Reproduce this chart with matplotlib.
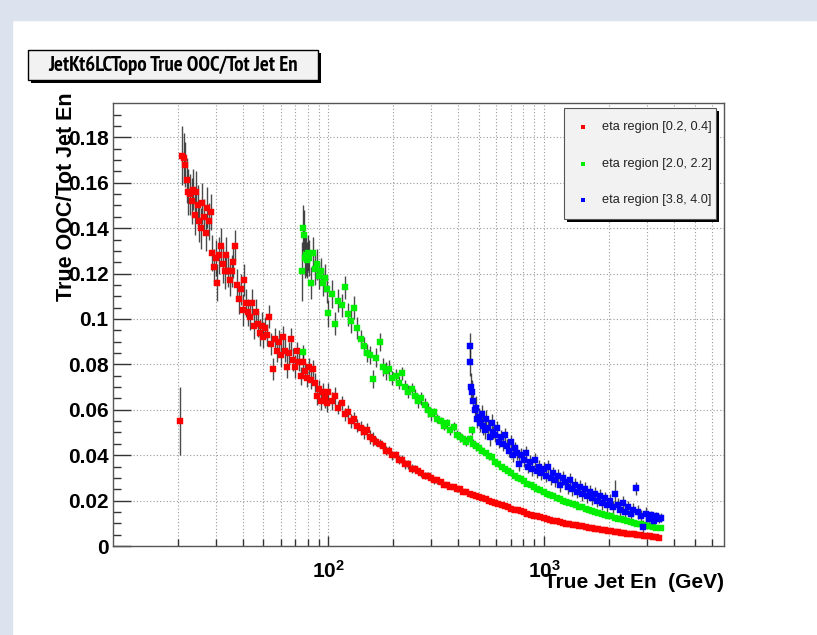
import matplotlib
matplotlib.use('Agg')
import matplotlib.pyplot as plt
from matplotlib.patches import Rectangle
from matplotlib.ticker import FixedLocator, NullFormatter
from matplotlib import font_manager
from matplotlib.font_manager import FontProperties

plt.rcParams['font.family'] = ['Liberation Sans', 'DejaVu Sans']
plt.rcParams['mathtext.fontset'] = 'custom'
plt.rcParams['mathtext.rm'] = 'Liberation Sans'
plt.rcParams['mathtext.bf'] = 'Liberation Sans:bold'

# ---------------- data ----------------
title = "JetKt6LCTopo True OOC/Tot Jet En"
x_label = "True Jet En  (GeV)"
y_label = "True OOC/Tot Jet En"
series_labels = ["eta region [0.2, 0.4]", "eta region [2.0, 2.2]", "eta region [3.8, 4.0]"]
series_colors = ["#ff0000", "#00ee00", "#0000ff"]

red_x = [20.5, 21.0, 21.3, 21.6, 22.0, 22.4, 22.8, 23.2, 23.6, 24.0, 24.4, 24.8, 25.2, 25.6, 26.0,
         26.5, 27.0, 27.5, 28.0, 28.5, 29.0, 29.5, 30.0, 30.6, 31.2, 31.8, 32.4, 33.0, 33.6, 34.2,
         34.9, 35.6, 36.3, 37.0, 37.7, 38.4, 39.2, 40.0, 40.8, 41.6, 42.4, 43.3, 44.2, 45.1, 46.0,
         47.0, 48.0, 49.0, 50.0, 51.0, 52.1, 53.2, 54.3, 55.4, 56.6, 57.8, 59.0, 60.2, 61.5, 62.8,
         64.1, 65.5, 66.9, 68.3, 69.8, 71.3, 72.8, 74.4, 76.0, 77.6, 79.3, 81.0, 82.7, 84.5, 86.3,
         88.2, 90.1, 92.0, 94.0, 96.0, 98.0,
         100, 103.5, 107, 111, 115, 119, 123, 127, 131, 136, 141, 146, 151, 156, 161, 167, 173,
         179, 185, 191, 198, 205, 212, 219, 227, 235, 243, 252, 261, 270, 279, 289, 299, 309, 320,
         331, 343, 355, 367, 380, 393, 407, 421, 436, 451, 467, 483, 500, 517, 535, 554, 573, 593,
         614, 636, 658, 681, 705, 730, 755, 782, 809, 837, 866, 897, 928, 960, 994, 1029, 1065,
         1102, 1141, 1181, 1222, 1265, 1309, 1355, 1402, 1451, 1502, 1555, 1609, 1665, 1724, 1784,
         1846, 1911, 1978, 2047, 2119, 2193, 2270, 2349, 2431, 2516, 2604, 2696, 2790, 2888, 2989,
         3093, 3202, 3314, 3400]
red_y = [0.055, 0.172, 0.171, 0.168, 0.161, 0.156, 0.155, 0.152, 0.157, 0.146, 0.156, 0.150, 0.143, 0.140, 0.151,
         0.145, 0.138, 0.149, 0.143, 0.147, 0.129, 0.123, 0.127, 0.116, 0.128, 0.132, 0.124, 0.121, 0.128, 0.121,
         0.117, 0.121, 0.125, 0.132, 0.115, 0.109, 0.113, 0.104, 0.117, 0.107, 0.103, 0.101, 0.107, 0.097, 0.103,
         0.098, 0.094, 0.097, 0.092, 0.096, 0.093, 0.101, 0.089, 0.078, 0.091, 0.086, 0.090, 0.084, 0.092, 0.086,
         0.079, 0.085, 0.091, 0.082, 0.079, 0.086, 0.081, 0.075, 0.081, 0.077, 0.074, 0.079, 0.073, 0.078, 0.072,
         0.066, 0.069, 0.064, 0.068, 0.065, 0.063,
         0.068, 0.064, 0.066, 0.061, 0.063, 0.058, 0.059, 0.055, 0.056, 0.053, 0.052, 0.050, 0.051, 0.048, 0.047, 0.046, 0.045,
         0.044, 0.042, 0.042, 0.040, 0.040, 0.038, 0.038, 0.036, 0.036, 0.034, 0.034, 0.033, 0.032, 0.031, 0.031, 0.030, 0.029, 0.029,
         0.028, 0.027, 0.027, 0.026, 0.026, 0.025, 0.025, 0.024, 0.024, 0.023, 0.0225, 0.022, 0.0215, 0.021, 0.0205, 0.020, 0.0195, 0.019,
         0.0185, 0.018, 0.0175, 0.017, 0.0165, 0.016, 0.0157, 0.0152, 0.0148, 0.0143, 0.0138, 0.0134, 0.0130, 0.0126, 0.0122, 0.0118, 0.0114,
         0.0111, 0.0108, 0.0105, 0.0102, 0.0099, 0.0096, 0.0094, 0.0091, 0.0088, 0.0086, 0.0083, 0.0081, 0.0078, 0.0076, 0.0073,
         0.0071, 0.0069, 0.0067, 0.0066, 0.0062, 0.0060, 0.0058, 0.0056, 0.0054, 0.0052, 0.0051, 0.0049, 0.0047, 0.0046, 0.0044,
         0.0042, 0.0040, 0.0038, 0.0036]
red_err = [0.015, 0.013, 0.011, 0.010, 0.010, 0.010, 0.009, 0.010, 0.009, 0.009, 0.009, 0.009, 0.009, 0.009, 0.009,
           0.008, 0.008, 0.009, 0.008, 0.008, 0.008, 0.008, 0.008, 0.008, 0.008, 0.008, 0.008, 0.008, 0.008, 0.007,
           0.007, 0.007, 0.007, 0.007, 0.007, 0.007, 0.007, 0.007, 0.007, 0.006, 0.006, 0.006, 0.006, 0.006, 0.006,
           0.006, 0.006, 0.006, 0.005, 0.005, 0.005, 0.005, 0.005, 0.005, 0.005, 0.005, 0.005, 0.005, 0.005, 0.005,
           0.005, 0.005, 0.005, 0.005, 0.005, 0.004, 0.004, 0.004, 0.004, 0.004, 0.004, 0.004, 0.004, 0.004, 0.004,
           0.004, 0.004, 0.004, 0.004, 0.004, 0.004,
           0.004, 0.004, 0.004, 0.003, 0.003, 0.003, 0.003, 0.003, 0.003, 0.003, 0.003, 0.003, 0.003, 0.003, 0.003, 0.002, 0.002,
           0.002, 0.002, 0.002, 0.002, 0.002, 0.002, 0.002, 0.002, 0.002, 0.002, 0.0015, 0.0015, 0.0015, 0.0015, 0.0015, 0.0015, 0.0015, 0.0015,
           0.001, 0.001, 0.001, 0.001, 0.001, 0.001, 0.001, 0.001, 0.001, 0.001, 0.001, 0.001, 0.001, 0.001, 0.001, 0.001, 0.001, 0.001,
           0.0008, 0.0008, 0.0008, 0.0008, 0.0008, 0.0008, 0.0008, 0.0008, 0.0008, 0.0008, 0.0008, 0.0008, 0.0008, 0.0008, 0.0008, 0.0008, 0.0008,
           0.0006, 0.0006, 0.0006, 0.0006, 0.0006, 0.0006, 0.0006, 0.0006, 0.0006, 0.0006, 0.0006, 0.0006, 0.0006, 0.0006, 0.0006,
           0.0005, 0.0005, 0.0005, 0.0005, 0.0005, 0.0005, 0.0005, 0.0005, 0.0005, 0.0005, 0.0005, 0.0005, 0.0005, 0.0005, 0.0005,
           0.0005, 0.0005, 0.0005, 0.0005]

green_x = [75.5, 76.0, 76.5, 77.0, 77.6, 78.5, 79.3, 80.2, 81.0, 82.7, 84.5, 86.3, 88.2, 90.1, 92.0, 94.0, 96.0, 98.0,
           100, 103.5, 107, 111, 115, 119, 123, 127, 131, 136, 141, 146, 151, 156, 161, 167, 173,
           179, 185, 191, 198, 205, 212, 219, 227, 235, 243, 252, 261, 270, 279, 289, 299, 309, 320,
           331, 343, 355, 367, 380, 393, 407, 421, 436, 451, 465, 467, 483, 500, 517, 535, 554, 573, 593,
           614, 636, 658, 681, 705, 730, 755, 782, 809, 837, 866, 897, 928, 960, 994, 1029, 1065,
           1102, 1141, 1181, 1222, 1265, 1309, 1355, 1402, 1451, 1502, 1555, 1609, 1665, 1724, 1784,
           1846, 1911, 1978, 2047, 2119, 2193, 2270, 2349, 2431, 2516, 2604, 2696, 2790, 2888, 2989,
           3093, 3202, 3314, 3470]
green_y = [0.121, 0.140, 0.0855, 0.137, 0.127, 0.128, 0.126, 0.129, 0.127, 0.116, 0.129, 0.122, 0.124, 0.119, 0.121, 0.116, 0.118, 0.113,
           0.1025, 0.111, 0.098, 0.108, 0.106, 0.114, 0.102, 0.099, 0.105, 0.096, 0.091, 0.088, 0.085, 0.084, 0.0734, 0.083, 0.0897,
           0.079, 0.077, 0.078, 0.074, 0.075, 0.072, 0.076, 0.070, 0.068, 0.069, 0.066, 0.064, 0.065, 0.062, 0.060, 0.058, 0.059, 0.056,
           0.055, 0.053, 0.054, 0.051, 0.0525, 0.049, 0.048, 0.047, 0.046, 0.047, 0.051, 0.045, 0.044, 0.043, 0.042, 0.041, 0.0395, 0.039, 0.037,
           0.036, 0.035, 0.034, 0.033, 0.032, 0.031, 0.030, 0.0295, 0.0285, 0.0275, 0.027, 0.026, 0.025, 0.0245, 0.024, 0.023, 0.0225,
           0.022, 0.021, 0.0205, 0.020, 0.0195, 0.019, 0.0183, 0.018, 0.0173, 0.017, 0.0165, 0.016, 0.0155, 0.015, 0.0147,
           0.0142, 0.0138, 0.0134, 0.013, 0.0125, 0.0121, 0.0117, 0.0113, 0.011, 0.0106, 0.0102, 0.0099, 0.0096, 0.0093, 0.009,
           0.0087, 0.0084, 0.0081, 0.0078]
green_err = [0.013, 0.010, 0.003, 0.011, 0.009, 0.009, 0.008, 0.008, 0.008, 0.007, 0.007, 0.007, 0.007, 0.006, 0.006, 0.006, 0.006, 0.006,
             0.006, 0.006, 0.005, 0.005, 0.005, 0.005, 0.005, 0.005, 0.005, 0.005, 0.004, 0.004, 0.004, 0.004, 0.004, 0.004, 0.004,
             0.004, 0.004, 0.004, 0.003, 0.003, 0.003, 0.003, 0.003, 0.003, 0.003, 0.003, 0.003, 0.003, 0.003, 0.003, 0.003, 0.002, 0.002,
             0.002, 0.002, 0.002, 0.002, 0.002, 0.002, 0.002, 0.002, 0.002, 0.002, 0.002, 0.002, 0.002, 0.002, 0.0015, 0.0015, 0.0015, 0.0015, 0.0015,
             0.0012, 0.0012, 0.0012, 0.0012, 0.0012, 0.0012, 0.0012, 0.0012, 0.001, 0.001, 0.001, 0.001, 0.001, 0.001, 0.001, 0.001, 0.001,
             0.0008, 0.0008, 0.0008, 0.0008, 0.0008, 0.0008, 0.0008, 0.0008, 0.0008, 0.0008, 0.0008, 0.0008, 0.0008, 0.0008, 0.0008,
             0.0007, 0.0007, 0.0007, 0.0007, 0.0007, 0.0007, 0.0007, 0.0007, 0.0007, 0.0007, 0.0007, 0.0007, 0.0007, 0.0007, 0.0007,
             0.0007, 0.0007, 0.0007, 0.0007]

blue_x = [451, 455, 460, 465, 470, 476, 483, 490, 497, 505, 513, 521, 530, 540, 550, 560, 571, 582, 593, 605,
          617, 630, 643, 657, 671, 686, 701, 717, 733, 750, 767, 785, 803, 822, 841, 861, 882, 903, 925, 948,
          971, 995, 1020, 1046, 1073, 1100, 1128, 1157, 1187, 1218, 1250, 1283, 1317, 1352, 1388, 1425, 1463,
          1502, 1542, 1584, 1627, 1671, 1717, 1764, 1812, 1862, 1913, 1966, 2020, 2076, 2133, 2192, 2253, 2315,
          2380, 2446, 2514, 2584, 2656, 2730, 2806, 2884, 2965, 3048, 3133, 3220, 3310, 3402, 3497]
blue_y = [0.088, 0.081, 0.070, 0.068, 0.064, 0.060, 0.061, 0.056, 0.057, 0.054, 0.058, 0.053, 0.051, 0.056, 0.052, 0.048, 0.054, 0.050, 0.049, 0.052,
          0.046, 0.048, 0.045, 0.049, 0.044, 0.042, 0.046, 0.040, 0.043, 0.041, 0.036, 0.040, 0.038, 0.041, 0.035, 0.037, 0.034, 0.038, 0.033, 0.035,
          0.032, 0.034, 0.031, 0.035, 0.030, 0.032, 0.029, 0.031, 0.027, 0.030, 0.028, 0.026, 0.029, 0.025, 0.027, 0.024, 0.026,
          0.023, 0.025, 0.022, 0.024, 0.021, 0.023, 0.020, 0.022, 0.019, 0.021, 0.018, 0.020, 0.017, 0.023, 0.018, 0.016, 0.019,
          0.015, 0.017, 0.014, 0.016, 0.0254, 0.015, 0.013, 0.0085, 0.014, 0.012, 0.0135, 0.011, 0.013, 0.012, 0.0125]
blue_err = [0.006, 0.006, 0.006, 0.005, 0.005, 0.005, 0.005, 0.004, 0.004, 0.004, 0.004, 0.004, 0.004, 0.004, 0.004, 0.004, 0.004, 0.003, 0.003, 0.003,
            0.003, 0.003, 0.003, 0.003, 0.003, 0.003, 0.003, 0.003, 0.003, 0.003, 0.003, 0.003, 0.003, 0.003, 0.003, 0.003, 0.003, 0.003, 0.003, 0.003,
            0.003, 0.003, 0.003, 0.003, 0.003, 0.003, 0.003, 0.003, 0.003, 0.003, 0.003, 0.003, 0.003, 0.003, 0.003, 0.003, 0.003,
            0.003, 0.003, 0.003, 0.003, 0.003, 0.003, 0.003, 0.003, 0.003, 0.003, 0.003, 0.003, 0.003, 0.006, 0.003, 0.003, 0.003,
            0.003, 0.003, 0.003, 0.003, 0.003, 0.003, 0.003, 0.003, 0.003, 0.002, 0.002, 0.002, 0.002, 0.002, 0.002]

y_major = [0, 0.02, 0.04, 0.06, 0.08, 0.1, 0.12, 0.14, 0.16, 0.18]
y_major_labels = ["0", "0.02", "0.04", "0.06", "0.08", "0.1", "0.12", "0.14", "0.16", "0.18"]
x_major = [100, 1000]
x_major_labels = [r"$\mathbf{10^{2}}$", r"$\mathbf{10^{3}}$"]
x_minor = [20, 30, 40, 50, 60, 70, 80, 90, 200, 300, 400, 500, 600, 700, 800, 900,
           2000, 3000, 4000, 5000, 6000]
y_minor = [0.005, 0.01, 0.015, 0.025, 0.03, 0.035, 0.045, 0.05, 0.055, 0.065, 0.07, 0.075,
           0.085, 0.09, 0.095, 0.105, 0.11, 0.115, 0.125, 0.13, 0.135, 0.145, 0.15, 0.155,
           0.165, 0.17, 0.175, 0.185, 0.19]


def narrow_bold_candidates():
    """Installed narrow / condensed bold upright sans fonts (file paths)."""
    out = []
    for f in font_manager.fontManager.ttflist:
        name = (f.name or '').lower()
        path = (f.fname or '').lower()
        narrow = ('narrow' in name or 'condensed' in name or 'narrow' in path or 'condensed' in path
                  or str(f.stretch).lower() in ('condensed', 'semi-condensed', 'extra-condensed'))
        bold = str(f.weight).lower() in ('bold', '700') or 'bold' in path
        bad = any(k in path for k in ('italic', 'oblique', 'semibold', 'extrabold', 'black', 'mono', 'serif'))
        if narrow and bold and not bad:
            out.append(f.fname)
    return sorted(set(out))


# ---------------- figure ----------------
W, H = 817, 635
fig = plt.figure(figsize=(W / 100, H / 100), dpi=100)
fig.patch.set_facecolor('white')
frame_col = '#dde3ee'
fig.add_artist(Rectangle((0, 0), 12 / W, 1, transform=fig.transFigure, color=frame_col, zorder=0))
fig.add_artist(Rectangle((0, 1 - 20 / H), 1, 20 / H, transform=fig.transFigure, color=frame_col, zorder=0))

ax_l, ax_r, ax_t, ax_b = 112.7, 724.3, 103.3, 546.0
ax = fig.add_axes([ax_l / W, 1 - ax_b / H, (ax_r - ax_l) / W, (ax_b - ax_t) / H])
ax.set_facecolor('white')
ax.set_xscale('log')
ax.set_xlim(10, 6840)
ax.set_ylim(0, 0.195)

for xs, ys, es, col in [(red_x, red_y, red_err, series_colors[0]),
                        (green_x, green_y, green_err, series_colors[1]),
                        (blue_x, blue_y, blue_err, series_colors[2])]:
    ax.errorbar(xs, ys, yerr=es, fmt='none', ecolor='#1e1e1e', elinewidth=1.0, capsize=0, alpha=0.8, zorder=3)
    ax.plot(xs, ys, linestyle='none', marker='s', markersize=4.8, markerfacecolor=col,
            markeredgecolor=col, markeredgewidth=0.3, zorder=4)

# ticks
ax.xaxis.set_major_locator(FixedLocator(x_major))
ax.set_xticklabels(x_major_labels)
ax.xaxis.set_minor_locator(FixedLocator(x_minor))
ax.xaxis.set_minor_formatter(NullFormatter())
ax.set_yticks(y_major)
ax.set_yticklabels(y_major_labels)
ax.yaxis.set_minor_locator(FixedLocator(y_minor))
ax.tick_params(axis='both', which='both', direction='in', top=False, right=False, color='#333333', width=1)
ax.tick_params(axis='y', which='major', length=13, labelsize=15, pad=3)
ax.tick_params(axis='y', which='minor', length=6)
ax.tick_params(axis='x', which='major', length=7.5, labelsize=15, pad=10)
ax.tick_params(axis='x', which='minor', length=5)
for lab in ax.get_yticklabels():
    lab.set_fontweight('bold')

ax.grid(True, which='major', axis='y', linestyle=(0, (1, 2)), color='#999999', linewidth=0.8)
ax.grid(True, which='both', axis='x', linestyle=(0, (1, 2)), color='#999999', linewidth=0.8)
ax.set_axisbelow(True)
for sp in ax.spines.values():
    sp.set_color('#555555')
    sp.set_linewidth(1.0)

# axis titles (ROOT style: at the end of the axes)
fig.text(724 / W, 1 - 583 / H, x_label, ha='right', va='center', fontsize=15, fontweight='bold')
fig.text(67 / W, 1 - 92 / H, y_label, ha='center', va='top', rotation=90, fontsize=15.5, fontweight='bold')

# title box
tx0, ty0, tx1, ty1 = 28, 50, 318, 80
fig.add_artist(Rectangle(((tx0 + 3) / W, 1 - (ty1 + 3) / H), (tx1 - tx0) / W, (ty1 - ty0) / H,
                         transform=fig.transFigure, facecolor='black', edgecolor='none', zorder=5))
fig.add_artist(Rectangle((tx0 / W, 1 - ty1 / H), (tx1 - tx0) / W, (ty1 - ty0) / H,
                         transform=fig.transFigure, facecolor='#f2f2f2', edgecolor='black', linewidth=1, zorder=6))
renderer = fig.canvas.get_renderer()
base_size = 15.0
target_w = 252.0
choice = None  # (score, FontProperties, width)
for path in narrow_bold_candidates():
    fp = FontProperties(fname=path, size=base_size)
    try:
        w, h, d = renderer.get_text_width_height_descent(title, fp, ismath=False)
    except Exception:
        continue
    score = abs(w - target_w)
    if choice is None or score < choice[0]:
        choice = (score, fp, w)
if choice is not None and choice[2] < 300:
    tfp = choice[1].copy()
    tfp.set_size(base_size * min(1.0, target_w / choice[2]) if choice[2] > target_w else base_size)
else:
    tfp = FontProperties(family=['Liberation Sans', 'DejaVu Sans'], weight='bold', size=base_size)
    w, h, d = renderer.get_text_width_height_descent(title, tfp, ismath=False)
    tfp.set_size(base_size * min(1.0, 272.0 / w))
fig.text((tx0 + tx1) / 2 / W, 1 - (ty0 + ty1) / 2 / H, title, ha='center', va='center',
         fontproperties=tfp, zorder=7)

# legend box
lx0, ly0, lx1, ly1 = 564, 108, 716, 219
fig.add_artist(Rectangle(((lx0 + 3) / W, 1 - (ly1 + 3) / H), (lx1 - lx0) / W, (ly1 - ly0) / H,
                         transform=fig.transFigure, facecolor='black', edgecolor='none', zorder=5))
fig.add_artist(Rectangle((lx0 / W, 1 - ly1 / H), (lx1 - lx0) / W, (ly1 - ly0) / H,
                         transform=fig.transFigure, facecolor='#f2f2f2', edgecolor='#555555', linewidth=0.8, zorder=6))
for i, (lab, col) in enumerate(zip(series_labels, series_colors)):
    yy = 1 - (127 + 36.7 * i) / H
    fig.add_artist(Rectangle(((583 - 2) / W, yy - 2 / H), 4 / W, 4 / H, transform=fig.transFigure,
                             facecolor=col, edgecolor='none', zorder=7))
    fig.text(602 / W, yy, lab, ha='left', va='center', fontsize=9.2, color='#222222', zorder=7)

fig.savefig('out.png', dpi=100)
